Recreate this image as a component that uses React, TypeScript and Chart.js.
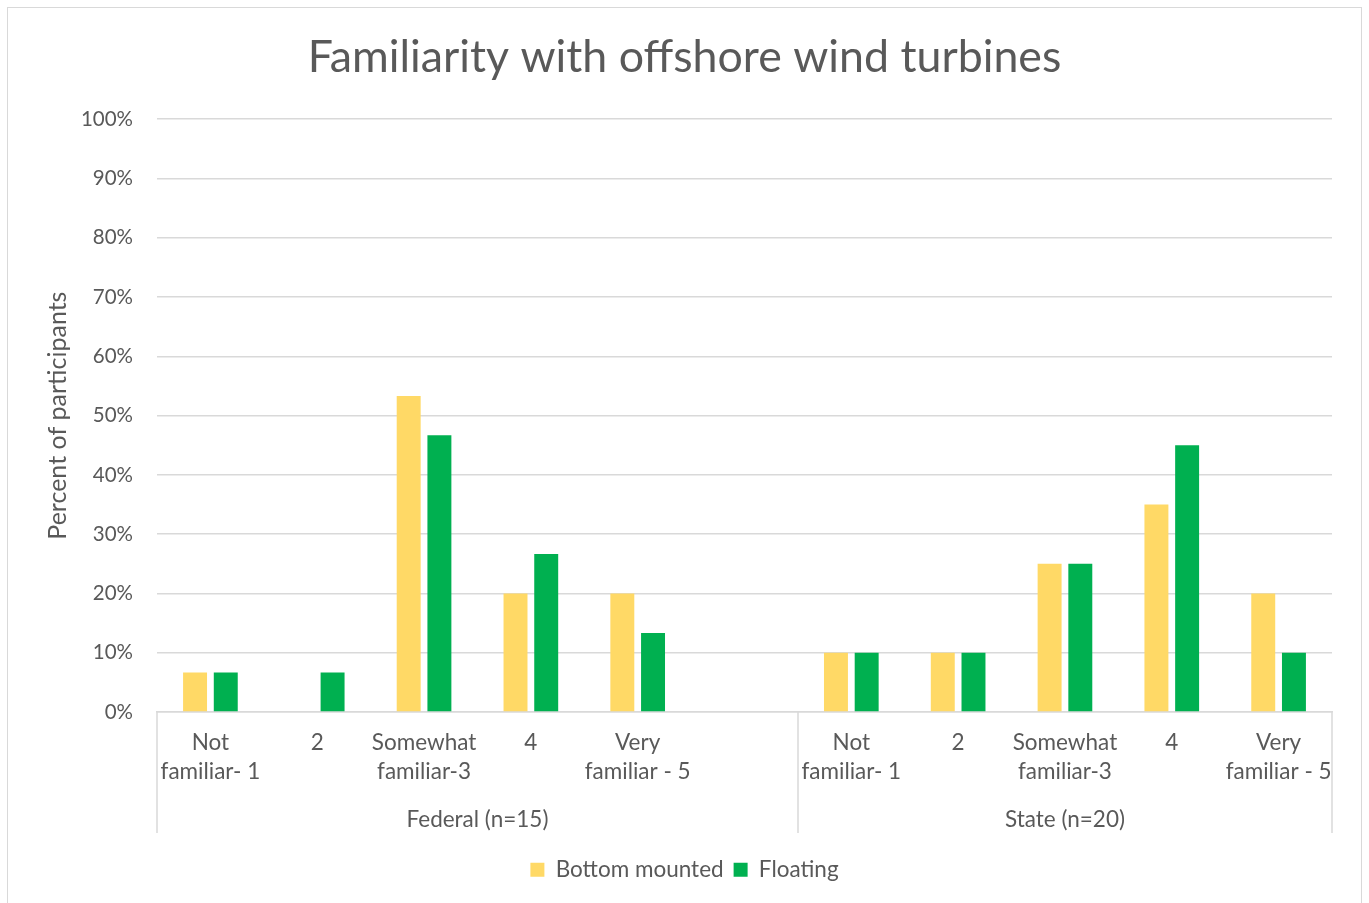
import React, { useEffect, useRef } from "react";
import { Chart, registerables } from "chart.js";

Chart.register(...registerables);

const TITLE = "Familiarity with offshore wind turbines";
const Y_TITLE = "Percent of participants";
const SERIES_NAMES = ["Bottom mounted", "Floating"];
const SERIES_COLORS = ["#FFD966", "#00B050"];
const CATEGORY_LABELS: string[][] = [
  ["Not", "familiar- 1"],
  ["2"],
  ["Somewhat", "familiar-3"],
  ["4"],
  ["Very", "familiar - 5"],
];
const GROUPS = ["Federal (n=15)", "State (n=20)"];
// Federal group has an empty trailing slot, as in the source chart
const FEDERAL_BOTTOM = [6.67, 0, 53.33, 20, 20];
const FEDERAL_FLOATING = [6.67, 6.67, 46.67, 26.67, 13.33];
const STATE_BOTTOM = [10, 10, 25, 35, 20];
const STATE_FLOATING = [10, 10, 25, 45, 10];
const Y_MAX = 100;
const Y_STEP = 10;

const FONT = "Lato, 'Open Sans', sans-serif";
const TEXT_COLOR = "#595959";
const GRID_COLOR = "#D9D9D9";

export default function App() {
  const ref = useRef<HTMLCanvasElement | null>(null);

  useEffect(() => {
    if (!ref.current) return;
    const labels = [...CATEGORY_LABELS, [""], ...CATEGORY_LABELS];
    const groupRanges = [
      { name: GROUPS[0], start: 0, end: CATEGORY_LABELS.length },
      { name: GROUPS[1], start: CATEGORY_LABELS.length + 1, end: labels.length - 1 },
    ];

    const groupPlugin = {
      id: "groupLabels",
      afterDraw(chart: any) {
        const { ctx, chartArea } = chart;
        const x = chart.scales.x;
        const half = (x.getPixelForValue(1) - x.getPixelForValue(0)) / 2;
        const bottom = chartArea.bottom;
        ctx.save();
        ctx.strokeStyle = GRID_COLOR;
        ctx.lineWidth = 1.5;
        const edges = new Set<number>();
        groupRanges.forEach((g) => {
          edges.add(Math.round(x.getPixelForValue(g.start) - half));
          edges.add(Math.round(x.getPixelForValue(g.end) + half));
        });
        edges.forEach((px) => {
          ctx.beginPath();
          ctx.moveTo(px, bottom);
          ctx.lineTo(px, bottom + 121);
          ctx.stroke();
        });
        ctx.fillStyle = TEXT_COLOR;
        ctx.font = `22.5px ${FONT}`;
        ctx.textAlign = "center";
        ctx.textBaseline = "middle";
        groupRanges.forEach((g) => {
          const l = x.getPixelForValue(g.start) - half;
          const r = x.getPixelForValue(g.end) + half;
          ctx.fillText(g.name, (l + r) / 2, bottom + 108);
        });
        ctx.restore();
      },
    };

    const chart = new Chart(ref.current, {
      type: "bar",
      data: {
        labels,
        datasets: [
          {
            label: SERIES_NAMES[0],
            data: [...FEDERAL_BOTTOM, null, ...STATE_BOTTOM],
            backgroundColor: SERIES_COLORS[0],
            borderWidth: 0,
            categoryPercentage: 0.575,
            barPercentage: 0.78,
          },
          {
            label: SERIES_NAMES[1],
            data: [...FEDERAL_FLOATING, null, ...STATE_FLOATING],
            backgroundColor: SERIES_COLORS[1],
            borderWidth: 0,
            categoryPercentage: 0.575,
            barPercentage: 0.78,
          },
        ],
      },
      options: {
        animation: false,
        responsive: false,
        maintainAspectRatio: false,
        layout: { padding: { left: 29, right: 29, top: 0, bottom: 11 } },
        plugins: {
          title: {
            display: true,
            text: TITLE,
            color: TEXT_COLOR,
            font: { family: FONT, size: 44.7, weight: "normal" },
            padding: { top: 23.2, bottom: 34.4 },
          },
          legend: {
            position: "bottom",
            labels: {
              color: TEXT_COLOR,
              font: { family: FONT, size: 22.5 },
              boxWidth: 14,
              boxHeight: 14,
              padding: 10,
            },
          },
          tooltip: { enabled: false },
        },
        scales: {
          x: {
            grid: { display: false, drawTicks: false },
            border: { display: true, color: GRID_COLOR, width: 1.5 },
            ticks: {
              color: TEXT_COLOR,
              font: { family: FONT, size: 22.5, lineHeight: "29px" } as any,
              padding: 16,
              maxRotation: 0,
              autoSkip: false,
            },
            afterFit(scale: any) {
              scale.height = 136.5;
            },
          },
          y: {
            min: 0,
            max: Y_MAX,
            ticks: {
              stepSize: Y_STEP,
              color: TEXT_COLOR,
              font: { family: FONT, size: 20.5 },
              padding: 24,
              callback: (v: any) => `${v}%`,
            },
            grid: { color: GRID_COLOR, lineWidth: 1.5, drawTicks: false },
            border: { display: false },
            title: {
              display: true,
              text: Y_TITLE,
              color: TEXT_COLOR,
              font: { family: FONT, size: 25 },
              padding: { top: 6, bottom: 0 },
            },
            afterFit(scale: any) {
              scale.width = 120;
            },
          },
        },
      },
      plugins: [groupPlugin],
    });
    return () => chart.destroy();
  }, []);

  return (
    <div
      style={{
        position: "absolute",
        left: 7,
        top: 7,
        width: 1355,
        height: 905,
        border: "1px solid #D9D9D9",
        boxSizing: "border-box",
        background: "#fff",
      }}
    >
      <canvas ref={ref} width={1353} height={894} style={{ display: "block", width: 1353, height: 894 }} />
    </div>
  );
}
